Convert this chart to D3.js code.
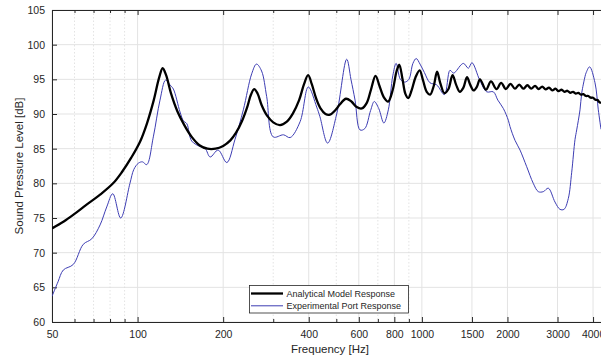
<!DOCTYPE html>
<html>
<head>
<meta charset="utf-8">
<script src="https://cdn.jsdelivr.net/npm/d3@7"></script>
<style>
  html, body { margin: 0; padding: 0; background: #fff; }
  svg { display: block; font-family: "Liberation Sans", Arial, Helvetica, sans-serif; }
</style>
</head>
<body>
<svg id="chart" width="601" height="358"></svg>
<script>
// ---------- data ----------
const modelFreq = [50,55,60,66,74,82,88,95,102,108,114,119,122.5,126,131,138,146,155,165,176,188,200,212,222,233,243,250,257,264,273,285,300,317,335,352,370,385,398,410,425,440,458,475,495,515,541,565,590,615,640,662,687,710,735,761,790,815,833,855,875,895,920,950,982,1010,1040,1069,1100,1131,1160,1200,1240,1282,1320,1360,1400,1441,1480,1520,1560,1601,1680,1750,1830,1900,1975,2050,2125,2200,2275,2350,2425,2500,2575,2650,2725,2800,2875,2950,3025,3100,3175,3250,3325,3400,3475,3550,3625,3700,3775,3850,3925,4000,4075,4150,4225,4300,4375,4450];
const modelSPL  = [73.5,74.5,75.6,76.9,78.4,80.0,81.6,83.7,86.0,88.7,92.0,95.2,96.6,95.6,93.0,90.4,88.4,86.7,85.5,85.0,85.0,85.4,86.2,87.3,89.0,91.0,92.7,93.6,93.0,91.3,89.8,88.8,88.4,88.9,90.1,92.0,94.3,95.6,94.3,92.2,90.8,90.0,89.9,90.5,91.4,92.2,91.8,91.0,90.8,91.6,93.5,95.5,94.0,92.4,91.8,93.5,96.2,97.1,95.0,92.9,92.3,93.4,95.3,96.3,94.8,93.2,92.8,94.0,96.1,94.5,93.0,93.6,95.6,94.2,93.2,93.8,95.3,94.2,93.4,93.9,95.0,93.5,94.7,93.6,94.5,93.6,94.35,93.65,94.25,93.65,94.15,93.65,94.05,93.6,93.95,93.55,93.8,93.4,93.65,93.3,93.5,93.2,93.35,93.05,93.2,92.95,93.05,92.8,92.85,92.6,92.6,92.35,92.35,92.05,92.0,91.65,91.6,91.2,91.15];

const portFreq = [50,52.5,54.8,59.4,64.4,69.0,73.8,77.9,81.8,87.2,94.0,97,100.6,104,107.7,113.6,119.9,125.5,130,133.6,141,145,149,155,166,173,180,192,206,220,235.5,252,262,273,284.5,300,326,344,373,398.6,426.6,438,466,501.6,544,563,582,606,630,660,680,705,735,762,790,812,840,870,900,930,955,985,1020,1068,1127,1200,1255,1290,1307,1399,1457,1500,1601,1691,1784,1850,1934,2014,2041,2126,2214,2337,2465,2568,2674,2784,2939,3060,3162,3273,3365,3456,3504,3599,3649,3748,3778,3890,4064,4174,4266];
const portSPL  = [63.7,65.8,67.5,68.3,71.2,72.0,74.0,76.6,78.5,75.0,80.0,82.0,82.9,83.1,82.7,86.7,92.0,94.9,94.2,93.6,90.3,89.0,88.6,86.1,85.3,85.0,83.8,84.8,83.0,86.3,90.6,95.8,97.2,96.2,92.5,86.7,87.0,86.6,88.9,93.9,91.0,89.6,85.8,90.0,97.9,95.0,92.0,87.7,87.9,90.5,91.8,90.8,88.7,90.6,95.5,97.3,95.0,94.6,95.0,97.3,98.0,97.2,96.0,94.5,94.2,92.8,96.3,95.9,96.0,97.3,96.6,97.4,94.8,93.2,93.2,92.0,90.8,89.1,88.2,86.2,84.8,82.4,80.0,78.8,78.8,79.3,77.3,76.25,76.25,77.8,81.6,86.3,87.7,90.6,93.0,95.4,95.9,96.8,94.5,90.6,87.8];

const xMajorTicks = [50,100,200,400,600,800,1000,1500,2000,3000,4000];
const xMinorTicks = [60,70,80,90,300,500,700,900,5000];
const yTicks = [60,65,70,75,80,85,90,95,100,105];
const seriesNames = ["Analytical Model Response", "Experimental Port Response"];

// ---------- layout ----------
const svg = d3.select("#chart");
const L = 52, T = 10, B = 322;
const x = d3.scaleLog().domain([50, 5000]).range([L, L + 284.3 * 2]);
const y = d3.scaleLinear().domain([60, 105]).range([B, T]);
const R = x(5000);
const axisColor = "#262626";
const gridColor = "#e3e3e3";

const clip = svg.append("defs").append("clipPath").attr("id", "plotclip")
  .append("rect").attr("x", L).attr("y", T).attr("width", R - L).attr("height", B - T);

// grid
const grid = svg.append("g");
grid.selectAll(".hg").data(yTicks).join("line")
  .attr("x1", L).attr("x2", R).attr("y1", d => y(d)).attr("y2", d => y(d))
  .attr("stroke", gridColor).attr("stroke-width", 1);
grid.selectAll(".vg").data(xMajorTicks).join("line")
  .attr("x1", d => x(d)).attr("x2", d => x(d)).attr("y1", T).attr("y2", B)
  .attr("stroke", gridColor).attr("stroke-width", 1);
grid.selectAll(".vm").data(xMinorTicks).join("line")
  .attr("x1", d => x(d)).attr("x2", d => x(d)).attr("y1", T).attr("y2", B)
  .attr("stroke", "#dcdcdc").attr("stroke-width", 0.8).attr("stroke-dasharray", "1.5,2");

// axes (inward ticks)
const xAxis = d3.axisBottom(x).tickValues(xMajorTicks).tickFormat(d3.format("d")).tickSizeInner(-5).tickSizeOuter(0).tickPadding(9);
const gx = svg.append("g").attr("transform", `translate(0,${B})`).call(xAxis);
gx.select(".domain").attr("stroke", axisColor);
gx.selectAll(".tick line").attr("stroke", axisColor);
gx.selectAll("text").attr("fill", axisColor).style("font-size", "10.5px");
svg.append("g").attr("transform", `translate(0,${B})`)
  .call(d3.axisBottom(x).tickValues(xMinorTicks).tickFormat("").tickSizeInner(-3).tickSizeOuter(0))
  .call(g => { g.select(".domain").remove(); g.selectAll("line").attr("stroke", axisColor); });

const gxt = svg.append("g").attr("transform", `translate(0,${T})`)
  .call(d3.axisTop(x).tickValues(xMajorTicks).tickFormat("").tickSizeInner(-5).tickSizeOuter(0));
gxt.select(".domain").attr("stroke", axisColor);
gxt.selectAll("line").attr("stroke", axisColor);
svg.append("g").attr("transform", `translate(0,${T})`)
  .call(d3.axisTop(x).tickValues(xMinorTicks).tickFormat("").tickSizeInner(-3).tickSizeOuter(0))
  .call(g => { g.select(".domain").remove(); g.selectAll("line").attr("stroke", axisColor); });

const gy = svg.append("g").attr("transform", `translate(${L},0)`)
  .call(d3.axisLeft(y).tickValues(yTicks).tickSizeInner(-5).tickSizeOuter(0).tickPadding(7));
gy.select(".domain").attr("stroke", axisColor);
gy.selectAll(".tick line").attr("stroke", axisColor);
gy.selectAll("text").attr("fill", axisColor).style("font-size", "10.5px");

// labels
svg.append("text").attr("x", 330).attr("y", 353).attr("text-anchor", "middle")
  .attr("fill", axisColor).style("font-size", "11.5px").text("Frequency [Hz]");
svg.append("text").attr("transform", `translate(23,${(T + B) / 2}) rotate(-90)`)
  .attr("text-anchor", "middle").attr("fill", axisColor).style("font-size", "11.5px")
  .text("Sound Pressure Level [dB]");

// lines
const plot = svg.append("g").attr("clip-path", "url(#plotclip)");
const line = d3.line().x(d => x(d[0])).y(d => y(d[1])).curve(d3.curveCatmullRom.alpha(0.5));
const portData = portFreq.map((f, i) => [f, portSPL[i]]);
const modelData = modelFreq.map((f, i) => [f, modelSPL[i]]);
plot.append("path").datum(portData).attr("d", line)
  .attr("fill", "none").attr("stroke", "#3d3db3").attr("stroke-width", 1);
plot.append("path").datum(modelData).attr("d", line)
  .attr("fill", "none").attr("stroke", "#000").attr("stroke-width", 2.3).attr("stroke-linejoin", "round");

// legend
const lg = svg.append("g");
lg.append("rect").attr("x", 249.5).attr("y", 285.5).attr("width", 159).attr("height", 27.5)
  .attr("fill", "#fff").attr("stroke", axisColor).attr("stroke-width", 0.8);
const legendStyles = [{c: "#000", w: 2.3}, {c: "#3d3db3", w: 1}];
seriesNames.forEach((name, i) => {
  const yy = 293.5 + i * 12.3;
  lg.append("line").attr("x1", 251).attr("x2", 283).attr("y1", yy).attr("y2", yy)
    .attr("stroke", legendStyles[i].c).attr("stroke-width", legendStyles[i].w);
  lg.append("text").attr("x", 286.5).attr("y", yy + 3.2).attr("fill", axisColor)
    .style("font-size", "9px").text(name);
});
</script>
</body>
</html>
